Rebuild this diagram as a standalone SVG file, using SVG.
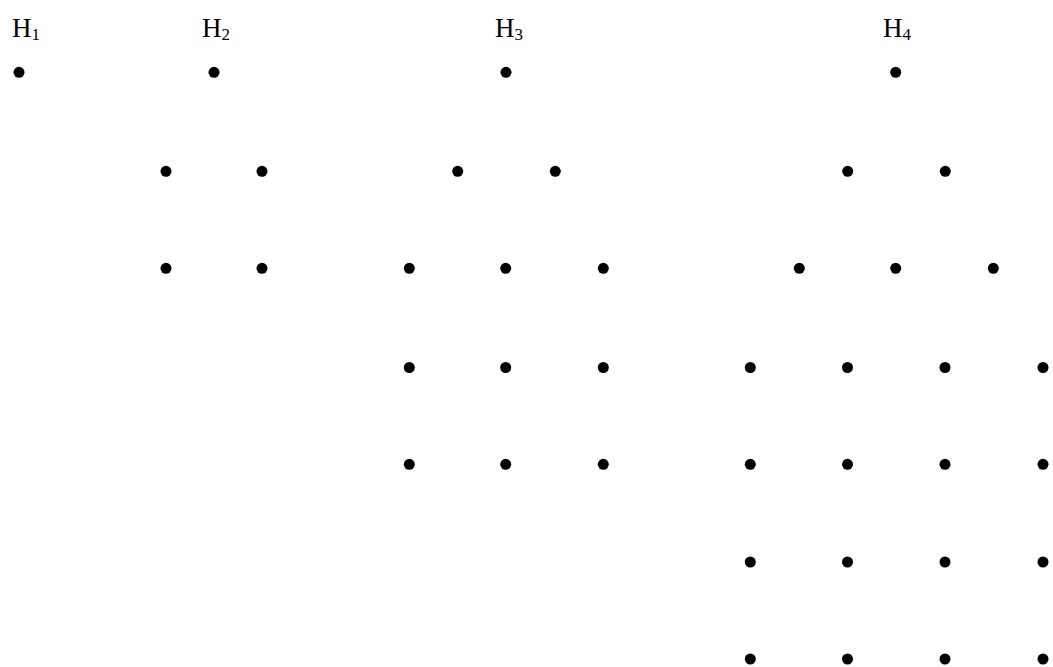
<svg xmlns="http://www.w3.org/2000/svg" width="1053" height="667" viewBox="0 0 1053 667">
  <style>
    .lbl { font-family: "Liberation Serif", "Times New Roman", serif; font-size: 27px; fill: #000; }
    .sub { font-size: 17px; }
    .pt { fill: #000; }
  </style>
  <defs>
    <circle id="dot" r="5.5" class="pt"/>
  </defs>
  <rect width="1053" height="667" fill="#fff"/>

  <!-- labels -->
  <g id="labels">
    <text class="lbl" x="12" y="37">H<tspan class="sub" dy="3">1</tspan></text>
    <text class="lbl" x="202" y="37">H<tspan class="sub" dy="3">2</tspan></text>
    <text class="lbl" x="495" y="37">H<tspan class="sub" dy="3">3</tspan></text>
    <text class="lbl" x="883" y="37">H<tspan class="sub" dy="3">4</tspan></text>
  </g>

  <!-- H1: single point -->
  <g id="H1">
    <use href="#dot" x="19" y="72.3"/>
  </g>

  <!-- H2: 1 + 2 + 2 -->
  <g id="H2">
    <use href="#dot" x="214" y="72.3"/>
    <use href="#dot" x="166" y="171.3"/>
    <use href="#dot" x="262" y="171.3"/>
    <use href="#dot" x="166" y="268.3"/>
    <use href="#dot" x="262" y="268.3"/>
  </g>

  <!-- H3: 1 + 2 + 3 + 3 + 3 -->
  <g id="H3">
    <use href="#dot" x="506" y="72.3"/>
    <use href="#dot" x="457.7" y="171.3"/>
    <use href="#dot" x="555.3" y="171.3"/>
    <use href="#dot" x="409.3" y="268.3"/>
    <use href="#dot" x="505.7" y="268.3"/>
    <use href="#dot" x="603.3" y="268.3"/>
    <use href="#dot" x="409.3" y="367.5"/>
    <use href="#dot" x="505.7" y="367.5"/>
    <use href="#dot" x="603.3" y="367.5"/>
    <use href="#dot" x="409.3" y="464.3"/>
    <use href="#dot" x="505.7" y="464.3"/>
    <use href="#dot" x="603.3" y="464.3"/>
  </g>

  <!-- H4: 1 + 2 + 3 + 4 + 4 + 4 + 4 -->
  <g id="H4">
    <use href="#dot" x="895.7" y="72.3"/>
    <use href="#dot" x="847.7" y="171.3"/>
    <use href="#dot" x="945.3" y="171.3"/>
    <use href="#dot" x="799.3" y="268.3"/>
    <use href="#dot" x="895.7" y="268.3"/>
    <use href="#dot" x="993.3" y="268.3"/>
    <use href="#dot" x="750.3" y="367.5"/>
    <use href="#dot" x="847.5" y="367.5"/>
    <use href="#dot" x="945" y="367.5"/>
    <use href="#dot" x="1043" y="367.5"/>
    <use href="#dot" x="750.3" y="464.3"/>
    <use href="#dot" x="847.5" y="464.3"/>
    <use href="#dot" x="945" y="464.3"/>
    <use href="#dot" x="1043" y="464.3"/>
    <use href="#dot" x="750.3" y="562"/>
    <use href="#dot" x="847.5" y="562"/>
    <use href="#dot" x="945" y="562"/>
    <use href="#dot" x="1043" y="562"/>
    <use href="#dot" x="750.3" y="659"/>
    <use href="#dot" x="847.5" y="659"/>
    <use href="#dot" x="945" y="659"/>
    <use href="#dot" x="1043" y="659"/>
  </g>

  <!-- no connectors in this figure -->
  <g id="connectors"/>
</svg>
